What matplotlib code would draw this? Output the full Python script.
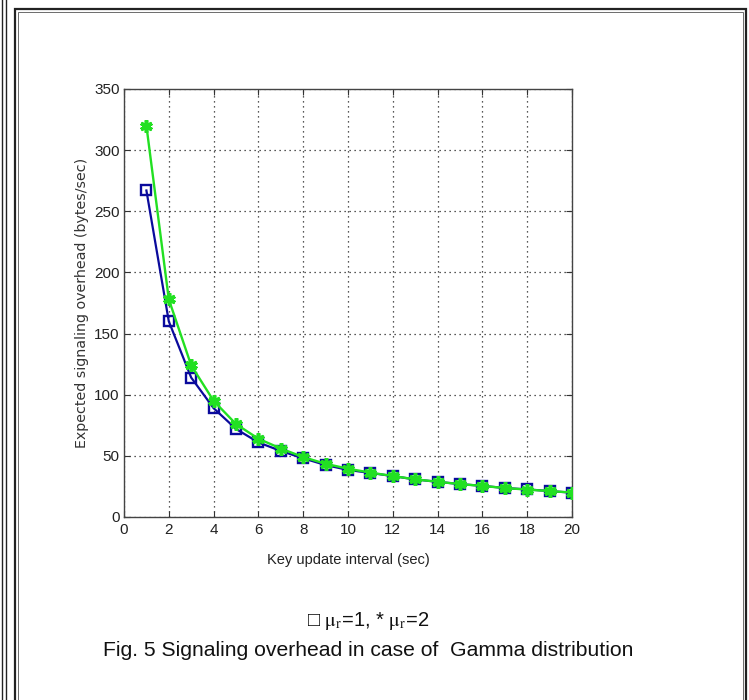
import matplotlib
matplotlib.use("Agg")
import matplotlib.pyplot as plt
from matplotlib.patches import Rectangle
from matplotlib.lines import Line2D

plt.rcParams['mathtext.fontset'] = 'stix'

# ---- data ----
key_interval = [1, 2, 3, 4, 5, 6, 7, 8, 9, 10, 11, 12, 13, 14, 15, 16, 17, 18, 19, 20]
overhead_mu1 = [267, 160, 114, 89, 72, 61, 54, 48, 42.5, 38.5, 36, 33.5, 30.7, 28.8, 26.9, 25.5, 23.7, 22.6, 21.2, 19.9]
overhead_mu2 = [320, 178, 124, 95, 76, 64, 56, 49, 43.5, 39.5, 36.3, 33.5, 30.8, 28.8, 26.9, 25.4, 23.7, 22.4, 21.2, 20.0]
xticks = list(range(0, 21, 2))
yticks = list(range(0, 351, 50))

W, H = 749, 700
fig = plt.figure(figsize=(W / 100, H / 100), dpi=100)
fig.patch.set_facecolor('white')

# outer frame (document box)
fig.patches.append(Rectangle((15 / W, -0.05), (746 - 15) / W, (H - 9) / H + 0.05,
                             transform=fig.transFigure, fill=False,
                             edgecolor='#222222', linewidth=1.6))
fig.patches.append(Rectangle((18 / W, -0.05), (743 - 18) / W, (H - 12) / H + 0.05,
                             transform=fig.transFigure, fill=False,
                             edgecolor='#555555', linewidth=0.6))
for xp in (1.5, 5.5):
    fig.lines.append(Line2D([xp / W, xp / W], [0, 1], transform=fig.transFigure,
                            color='#222222', linewidth=1.0))

left, right, top, bottom = 124, 572, 89, 517
ax = fig.add_axes([left / W, 1 - bottom / H, (right - left) / W, (bottom - top) / H])

tickfont = ['Liberation Sans Narrow', 'Liberation Sans', 'DejaVu Sans']

ax.plot(key_interval, overhead_mu1, color='#0a0a9c', linewidth=1.6, marker='s',
        markersize=7.5, markerfacecolor='none', markeredgecolor='#0a0a9c',
        markeredgewidth=1.7, zorder=3)
ax.plot(key_interval, overhead_mu2, color='#22e022', linewidth=1.7, marker=(6, 2, 0),
        markersize=9, markerfacecolor='#22e022', markeredgecolor='#22e022',
        markeredgewidth=2.6, zorder=4)

ax.set_xlim(0, 20)
ax.set_ylim(0, 350)
ax.set_xticks(xticks)
ax.set_yticks(yticks)
ax.grid(True, linestyle=(0, (1, 3)), color='#222222', linewidth=0.9)
ax.tick_params(direction='in', top=True, right=True, length=4, width=0.8,
               colors='#333333', labelsize=11, pad=4)
ax.tick_params(axis='y', pad=3)
for lab in ax.get_xticklabels() + ax.get_yticklabels():
    lab.set_family(tickfont)
    lab.set_color('#222222')
for sp in ax.spines.values():
    sp.set_color('#444444')
    sp.set_linewidth(1.0)

ax.set_xlabel('Key update interval (sec)', family=tickfont, fontsize=10.5,
              color='#222222')
ax.xaxis.set_label_coords(0.5, -(553 - bottom) / (bottom - top))
ax.set_ylabel('Expected signaling overhead (bytes/sec)', family=['DejaVu Sans'],
              fontsize=10.3, color='#333333')
ax.yaxis.set_label_coords(-(left - 89) / (right - left), 0.5)

cx = 368 / W
fig.text(cx, 1 - 621 / H,
         '□ $\\mathrm{\\mu_r}$=1, * $\\mathrm{\\mu_r}$=2',
         ha='center', va='center', fontsize=14.5,
         family=['Liberation Sans', 'DejaVu Sans'], color='#111111')
fig.text(cx, 1 - 650 / H, 'Fig. 5 Signaling overhead in case of  Gamma distribution',
         ha='center', va='center', fontsize=15.2,
         family=['Liberation Sans', 'DejaVu Sans'], color='#111111')

fig.savefig('out.png', dpi=100)
